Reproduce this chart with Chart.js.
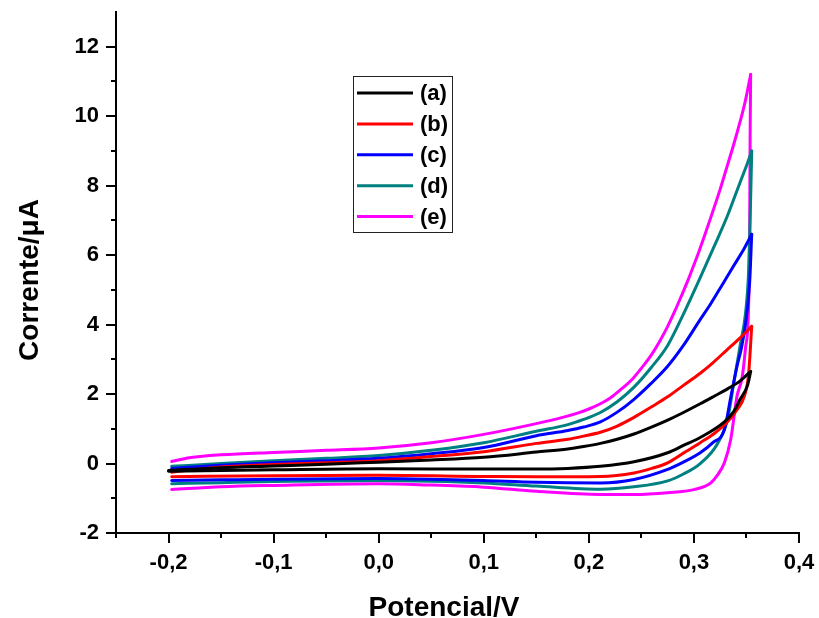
<!DOCTYPE html>
<html>
<head>
<meta charset="utf-8">
<title>Voltametria</title>
<script src="https://cdn.jsdelivr.net/npm/chart.js@4.4.1/dist/chart.umd.min.js"></script>
<style>
    html, body { margin: 0; padding: 0; background: #fff; }
    #cv { display: block; }
</style>
</head>
<body>
<canvas id="cv" width="819" height="618"></canvas>
<script>
// Curves: upper branch up to the vertex, then back along the lower branch
const potA = [-0.2, -0.15, -0.1, -0.05, 0.0, 0.05, 0.1, 0.15, 0.18, 0.195, 0.211, 0.227, 0.243, 0.259, 0.275, 0.29, 0.306, 0.32, 0.332, 0.344, 0.354,
              0.351, 0.344, 0.338, 0.329, 0.306, 0.29, 0.275, 0.243, 0.211, 0.18, 0.15, 0.1, 0.0, -0.1, -0.2];
const curA = [-0.2, -0.12, -0.07, -0.02, 0.04, 0.1, 0.18, 0.33, 0.42, 0.49, 0.58, 0.7, 0.85, 1.04, 1.25, 1.47, 1.72, 1.95, 2.15, 2.38, 2.65,
              2.25, 1.85, 1.5, 1.2, 0.75, 0.52, 0.31, 0.05, -0.08, -0.14, -0.16, -0.16, -0.15, -0.18, -0.22];

const potB = [-0.197, -0.15, -0.1, -0.05, 0.0, 0.05, 0.1, 0.15, 0.18, 0.195, 0.211, 0.227, 0.243, 0.259, 0.275, 0.29, 0.306, 0.318, 0.331, 0.344, 0.355,
              0.352, 0.348, 0.341, 0.332, 0.32, 0.306, 0.29, 0.275, 0.26, 0.243, 0.211, 0.15, 0.1, 0.0, -0.1, -0.197];
const curB = [-0.25, -0.1, -0.03, 0.02, 0.08, 0.2, 0.34, 0.58, 0.7, 0.79, 0.9, 1.08, 1.33, 1.62, 1.92, 2.25, 2.6, 2.9, 3.26, 3.62, 3.95,
              2.56, 1.94, 1.55, 1.2, 0.88, 0.6, 0.3, 0.02, -0.14, -0.27, -0.37, -0.38, -0.37, -0.34, -0.35, -0.38];

const potC = [-0.197, -0.15, -0.1, -0.05, 0.0, 0.05, 0.1, 0.15, 0.18, 0.195, 0.211, 0.227, 0.243, 0.259, 0.275, 0.29, 0.305, 0.316, 0.327, 0.338, 0.348, 0.355,
              0.353, 0.349, 0.345, 0.341, 0.335, 0.329, 0.318, 0.306, 0.29, 0.275, 0.243, 0.211, 0.15, 0.1, 0.05, 0.0, -0.1, -0.15, -0.197];
const curC = [-0.14, -0.05, 0.02, 0.08, 0.15, 0.28, 0.46, 0.8, 0.95, 1.05, 1.2, 1.48, 1.85, 2.3, 2.8, 3.4, 4.1, 4.6, 5.15, 5.7, 6.2, 6.6,
              5.2, 4.0, 3.3, 2.8, 1.9, 0.98, 0.6, 0.31, 0.04, -0.17, -0.46, -0.56, -0.54, -0.49, -0.45, -0.43, -0.45, -0.47, -0.49];

const potD = [-0.197, -0.15, -0.1, -0.05, 0.0, 0.05, 0.1, 0.15, 0.18, 0.195, 0.211, 0.227, 0.243, 0.259, 0.275, 0.29, 0.306, 0.32, 0.332, 0.344, 0.351, 0.355,
              0.3535, 0.352, 0.349, 0.344, 0.338, 0.332, 0.322, 0.306, 0.29, 0.275, 0.243, 0.211, 0.15, 0.1, 0.05, 0.0, -0.1, -0.15, -0.197];
const curD = [-0.08, 0.0, 0.08, 0.15, 0.23, 0.38, 0.6, 0.93, 1.12, 1.27, 1.47, 1.78, 2.2, 2.75, 3.4, 4.3, 5.35, 6.3, 7.14, 8.1, 8.65, 9.0,
              7.0, 5.5, 4.3, 3.4, 2.33, 1.27, 0.55, 0.0, -0.3, -0.5, -0.67, -0.74, -0.65, -0.56, -0.51, -0.49, -0.52, -0.55, -0.58];

const potE = [-0.197, -0.185, -0.17, -0.15, -0.1, -0.05, 0.0, 0.05, 0.1, 0.15, 0.175, 0.19, 0.2, 0.211, 0.22, 0.23, 0.242, 0.252, 0.26, 0.268, 0.275, 0.282, 0.288,
              0.294, 0.3, 0.305, 0.31, 0.316, 0.325, 0.332, 0.338, 0.344, 0.349, 0.354,
              0.3535, 0.353, 0.352, 0.349, 0.346, 0.341, 0.335, 0.329, 0.322, 0.316, 0.3, 0.275, 0.243, 0.211, 0.15, 0.1, 0.05, 0.0, -0.1, -0.15, -0.197];
const curE = [0.06, 0.14, 0.2, 0.25, 0.32, 0.38, 0.45, 0.6, 0.84, 1.15, 1.33, 1.46, 1.57, 1.72, 1.88, 2.12, 2.45, 2.82, 3.15, 3.55, 3.95, 4.4, 4.82,
              5.25, 5.72, 6.12, 6.55, 7.08, 7.9, 8.6, 9.2, 9.85, 10.45, 11.2,
              9.5, 6.5, 4.5, 3.3, 2.5, 1.94, 0.69, 0.02, -0.35, -0.56, -0.75, -0.84, -0.89, -0.89, -0.8, -0.68, -0.62, -0.58, -0.63, -0.67, -0.75];

const seriesLabels = ['(a)', '(b)', '(c)', '(d)', '(e)'];
const seriesColors = ['#000000', '#ff0000', '#0000ff', '#008080', '#ff00ff'];
const seriesPot = [potA, potB, potC, potD, potE];
const seriesCur = [curA, curB, curC, curD, curE];

const FONT = '"Liberation Sans", Arial, sans-serif';

// split every loop at its vertex so each branch runs left to right (needed by monotone splines)
const datasets = [];
seriesPot.forEach((pot, i) => {
    const pts = pot.map((x, j) => ({ x: x, y: seriesCur[i][j] }));
    const vertex = pot.indexOf(Math.max(...pot));
    const branches = [pts.slice(0, vertex + 1), pts.slice(vertex).reverse()];
    branches.forEach(data => {
        datasets.push({
            label: seriesLabels[i],
            data: data,
            borderColor: seriesColors[i],
            backgroundColor: seriesColors[i],
            borderWidth: 3,
            pointRadius: 0,
            showLine: true,
            cubicInterpolationMode: 'monotone',
            borderJoinStyle: 'round',
            borderCapStyle: 'round'
        });
    });
});

// Minor/major tick marks drawn outside the axes
const tickMarks = {
    id: 'tickMarks',
    afterDraw(chart) {
        const ctx = chart.ctx;
        const xs = chart.scales.x, ys = chart.scales.y;
        const area = chart.chartArea;
        ctx.save();
        ctx.strokeStyle = '#000';
        ctx.lineWidth = 2;
        ys.ticks.forEach(t => {
            if (t.value > 12.5) return;
            const py = Math.round(ys.getPixelForValue(t.value));
            const len = Math.round(t.value) % 2 === 0 ? 10 : 5;
            ctx.beginPath();
            ctx.moveTo(area.left - len, py);
            ctx.lineTo(area.left, py);
            ctx.stroke();
        });
        xs.ticks.forEach(t => {
            const px = Math.round(xs.getPixelForValue(t.value));
            const len = Math.round(t.value * 100) % 10 === 0 ? 10 : 5;
            ctx.beginPath();
            ctx.moveTo(px, area.bottom);
            ctx.lineTo(px, area.bottom + len);
            ctx.stroke();
        });
        ctx.restore();
    }
};

// Axis titles and boxed legend
const titlesAndLegend = {
    id: 'titlesAndLegend',
    afterDraw(chart) {
        const ctx = chart.ctx;
        const area = chart.chartArea;
        ctx.save();
        ctx.fillStyle = '#000';
        ctx.font = 'bold 28px ' + FONT;
        ctx.textAlign = 'center';
        ctx.textBaseline = 'alphabetic';
        ctx.fillText('Potencial/V', area.left + 328, 616);

        ctx.translate(38, area.top + 268);
        ctx.rotate(-Math.PI / 2);
        ctx.fillText('Corrente/\u03BCA', 0, 0);
        ctx.restore();

        const bx = area.left + 237, by = area.top + 64, bw = 99, bh = 156;
        ctx.save();
        ctx.strokeStyle = '#222';
        ctx.lineWidth = 1;
        ctx.strokeRect(bx + 0.5, by + 0.5, bw, bh);
        ctx.font = 'bold 22px ' + FONT;
        ctx.textAlign = 'left';
        ctx.textBaseline = 'middle';
        seriesLabels.forEach((label, i) => {
            const cy = by + 17 + i * 30.9;
            ctx.strokeStyle = seriesColors[i];
            ctx.lineWidth = 3;
            ctx.beginPath();
            ctx.moveTo(bx + 4, cy);
            ctx.lineTo(bx + 60, cy);
            ctx.stroke();
            ctx.fillStyle = '#000';
            ctx.fillText(label, bx + 67, cy + 1);
        });
        ctx.restore();
    }
};

const ctx = document.getElementById('cv').getContext('2d');
new Chart(ctx, {
    type: 'scatter',
    data: { datasets: datasets },
    options: {
        responsive: false,
        animation: false,
        layout: { padding: { top: 12, right: 20, left: 0, bottom: 0 } },
        plugins: {
            legend: { display: false },
            tooltip: { enabled: false }
        },
        scales: {
            x: {
                type: 'linear',
                min: -0.25,
                max: 0.4,
                afterFit: s => { s.height = 85; s.paddingLeft = 0; s.paddingRight = 0; },
                grid: { display: false, drawTicks: false },
                border: { display: true, color: '#000', width: 2 },
                ticks: {
                    stepSize: 0.05,
                    autoSkip: false,
                    maxRotation: 0,
                    padding: 17,
                    color: '#000',
                    font: { family: FONT, size: 22, weight: 'bold' },
                    callback: v => Math.round(v * 100) % 10 === 0 ? v.toFixed(1).replace('.', ',') : ''
                }
            },
            y: {
                type: 'linear',
                min: -2,
                max: 13,
                afterFit: s => { s.width = 116; s.paddingTop = 0; s.paddingBottom = 0; },
                grid: { display: false, drawTicks: false },
                border: { display: true, color: '#000', width: 2 },
                ticks: {
                    stepSize: 1,
                    autoSkip: false,
                    padding: 17,
                    color: '#000',
                    font: { family: FONT, size: 22, weight: 'bold' },
                    callback: v => (Math.round(v) % 2 === 0 && v < 13) ? String(v) : ''
                }
            }
        }
    },
    plugins: [tickMarks, titlesAndLegend]
});
</script>
</body>
</html>
